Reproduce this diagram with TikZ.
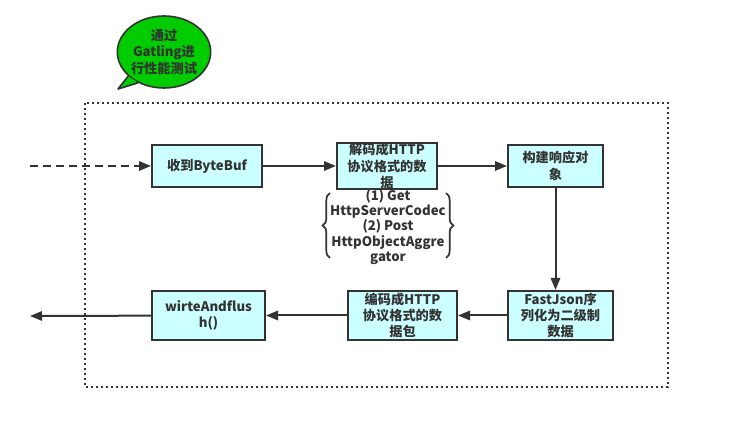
\documentclass[tikz,border=0pt]{standalone}
\usepackage{fontspec}
\setmainfont{Noto Sans CJK SC}
\usetikzlibrary{arrows.meta, shapes.geometric, decorations.pathreplacing}
\definecolor{boxfill}{HTML}{CCFFFF}
\definecolor{ink}{HTML}{333333}
\definecolor{bubblegreen}{HTML}{00CC00}
\tikzset{
    stage/.style={draw=ink, line width=1.5pt, fill=boxfill, text=ink, align=center,
        inner sep=0pt, font=\bfseries\fontsize{9.9}{12.2}\selectfont},
    flow/.style={draw=ink, line width=1.5pt, -{Triangle[length=9pt, width=7pt]}},
    bubble/.style={ellipse, draw=ink, line width=1.2pt, fill=bubblegreen, text=ink,
        align=center, inner sep=0pt, minimum width=67.5pt, minimum height=54pt,
        font=\bfseries\fontsize{9.9}{12.4}\selectfont},
    frame/.style={draw=ink, line width=1.5pt, dash pattern=on 1.5pt off 2.25pt},
    curly/.style={draw=ink, line width=1.3pt, decorate, decoration={brace, amplitude=5.5pt}}
}
\begin{document}
\begin{tikzpicture}[x=0.75pt, y=-0.75pt]
\useasboundingbox (0,0) rectangle (749,423);
\draw[frame] (85,103) rectangle (668,387);

% speech bubble
\node[bubble] (gatling) at (164,52) {通过\\Gatling进\\行性能测试};
\filldraw[draw=ink, line width=1.2pt, fill=bubblegreen, line join=round] (gatling.214) -- (118,89) -- (gatling.230);

% top row
\coordinate (src) at (30,166);
\node[stage, minimum width=82.5pt, minimum height=31.5pt] (recv) at (207,166) {收到ByteBuf};
\node[stage, minimum width=75pt, minimum height=31.5pt] (decode) at (387,166) {解码成HTTP\\协议格式的数\\据};
\node[stage, minimum width=71.25pt, minimum height=31.5pt] (build) at (555.5,166) {构建响应对\\象};

\node[text=ink, align=center, font=\bfseries\fontsize{9.9}{11.6}\selectfont] (codec) at (388,227) {(1) Get\\HttpServerCodec\\(2) Post\\HttpObjectAggre\\gator};
\draw[curly] (330,258) -- (330,193);
\draw[curly] (446,193) -- (446,258);

% bottom row
\node[stage, minimum width=78.75pt, minimum height=36.75pt] (json) at (560.5,315.5) {FastJson序\\列化为二级制\\数据};
\node[stage, minimum width=81.75pt, minimum height=36.75pt] (encode) at (402.5,315.5) {编码成HTTP\\协议格式的数\\据包};
\node[stage, minimum width=84.75pt, minimum height=36.75pt] (flush) at (208.5,315.5) {wirteAndflus\\h()};
\coordinate (out) at (30,316);

\draw[flow, dash pattern=on 6pt off 3.75pt] (src) -- (recv);
\draw[flow] (recv) -- (decode);
\draw[flow] (decode) -- (build);
\draw[flow] (build.south) -- (build.south |- json.north);
\draw[flow] (json) -- (encode);
\draw[flow] (encode) -- (flush);
\draw[flow] (flush) -- (out);
\end{tikzpicture}
\end{document}
